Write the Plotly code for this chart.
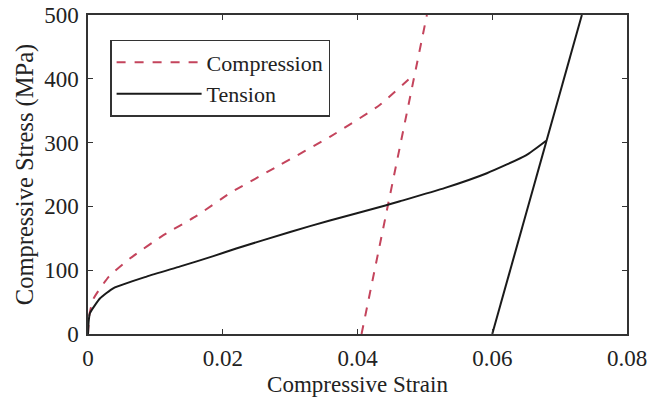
import plotly.graph_objects as go

# Compression: loading curve
comp_strain = [0.0, 0.0002, 0.0008, 0.0031, 0.0063, 0.0112, 0.0161, 0.0211, 0.0285, 0.0359, 0.0433, 0.0484]
comp_stress = [0, 30, 55, 90, 119, 155, 185, 221, 265, 309, 359, 407]
# Compression: unloading/elastic line
comp_unload_strain = [0.0406, 0.0503]
comp_unload_stress = [0, 500]

# Tension: loading curve
ten_strain = [0.0, 0.0001, 0.0003, 0.0018, 0.0038, 0.0087, 0.0137, 0.0186, 0.022, 0.030, 0.0359, 0.044, 0.0463, 0.0530, 0.0592, 0.065, 0.0680]
ten_stress = [0, 20, 33, 56, 72, 90, 106, 122, 134, 160, 178, 201, 208, 229, 252, 280, 303]
# Tension: unloading/elastic line
ten_unload_strain = [0.0600, 0.0733]
ten_unload_stress = [0, 500]

x_ticks = [0, 0.02, 0.04, 0.06, 0.08]
x_tick_labels = ["0", "0.02", "0.04", "0.06", "0.08"]
y_ticks = [0, 100, 200, 300, 400, 500]

FONT = "Liberation Serif, Times New Roman, serif"
RED = "#c4445c"
INK = "#222222"

fig = go.Figure()
fig.add_trace(go.Scatter(
    x=comp_strain + [None] + comp_unload_strain,
    y=comp_stress + [None] + comp_unload_stress,
    mode="lines", name="Compression",
    line=dict(color=RED, width=2, dash="dash", shape="spline", smoothing=0.5),
))
fig.add_trace(go.Scatter(
    x=ten_strain + [None] + ten_unload_strain,
    y=ten_stress + [None] + ten_unload_stress,
    mode="lines", name="Tension",
    line=dict(color="#1a1a1a", width=2, shape="spline", smoothing=0.5),
))

axis_common = dict(
    showgrid=False, zeroline=False, showline=True, linecolor="#333333", linewidth=1.5,
    mirror="ticks", ticks="inside", ticklen=5, tickcolor="#333333", tickwidth=1,
    tickfont=dict(family=FONT, size=23, color=INK), automargin=False,
    ticklabelstandoff=3,
)

fig.update_layout(
    width=649, height=405,
    margin=dict(l=88, r=22, t=15, b=71),
    paper_bgcolor="white", plot_bgcolor="white",
    showlegend=True,
    legend=dict(
        x=0.041, y=0.922, xanchor="left", yanchor="top",
        bgcolor="white", bordercolor="#333333", borderwidth=1.5,
        font=dict(family=FONT, size=22, color=INK),
        tracegroupgap=0, itemwidth=85,
    ),
    xaxis=dict(
        range=[0, 0.08], tickvals=x_ticks, ticktext=x_tick_labels,
        title=dict(text="Compressive Strain", font=dict(family=FONT, size=23, color=INK), standoff=6),
        **axis_common,
    ),
    yaxis=dict(
        range=[0, 500], tickvals=y_ticks,
        title=dict(text="Compressive Stress (MPa)", font=dict(family=FONT, size=24.5, color=INK), standoff=4),
        **axis_common,
    ),
)

fig.write_html("out.html")
